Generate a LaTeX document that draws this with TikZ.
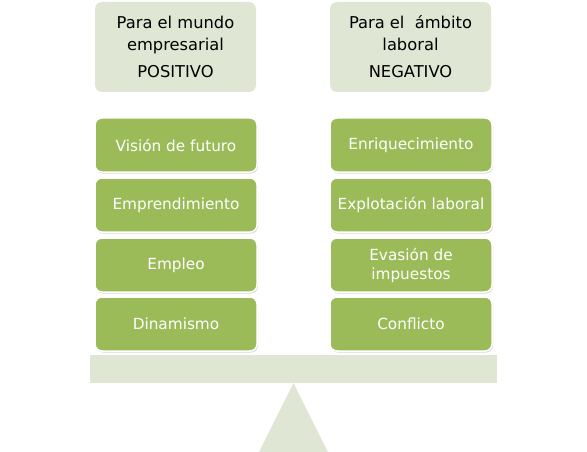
\documentclass[tikz,border=0pt]{standalone}
\usepackage{fontspec}
\setmainfont{DejaVu Sans}
\usepackage{xcolor}
\usepackage{tikz}
\usetikzlibrary{shapes.geometric, shadows}
\definecolor{itemgreen}{HTML}{9BBB59}
\definecolor{palegreen}{HTML}{DFE7D4}
\tikzstyle{header} = [rectangle, rounded corners=7pt, minimum width=161pt, minimum height=90pt, text centered, fill=palegreen, text=black, font=\fontsize{16.3}{22}\selectfont]
\tikzstyle{item}   = [rectangle, rounded corners=7pt, minimum width=162pt, minimum height=54pt, text centered, draw=white, line width=1.5pt, fill=itemgreen, text=white, font=\fontsize{15.3}{19}\selectfont, drop shadow={shadow xshift=1pt, shadow yshift=-1.5pt, opacity=0.3}]
\tikzstyle{beam}   = [rectangle, minimum width=407pt, minimum height=28pt, fill=palegreen, inner sep=0pt]
\tikzset{every node/.style={align=center}}

\begin{document}
\begin{tikzpicture}[x=1pt, y=-1pt]
    \useasboundingbox (0,0) rectangle (587,452);

    \node (pos)  at (175.5, 47)  [header] {Para el mundo\\empresarial\\[5pt]POSITIVO};
    \node (neg)  at (410.5, 47)  [header] {Para el \ ámbito\\laboral\\[5pt]NEGATIVO};

    \node (vis)  at (176, 145)   [item] {Visión de futuro};
    \node (emp)  at (176, 205)   [item] {Emprendimiento};
    \node (emd)  at (176, 265)   [item] {Empleo};
    \node (din)  at (176, 324)   [item] {Dinamismo};

    \node (enr)  at (411, 145)   [item] {Enriquecimiento};
    \node (exp)  at (411, 205)   [item] {Explotación laboral};
    \node (eva)  at (411, 265)   [item] {Evasión de\\impuestos};
    \node (con)  at (411, 324)   [item] {Conflicto};

    \node (bar)  at (293.5, 369) [beam] {};
    \coordinate (fl) at (259, 452);
    \coordinate (fr) at (328, 452);
    \fill [palegreen] (bar.south) -- (fr) -- (fl) -- cycle;
\end{tikzpicture}
\end{document}
